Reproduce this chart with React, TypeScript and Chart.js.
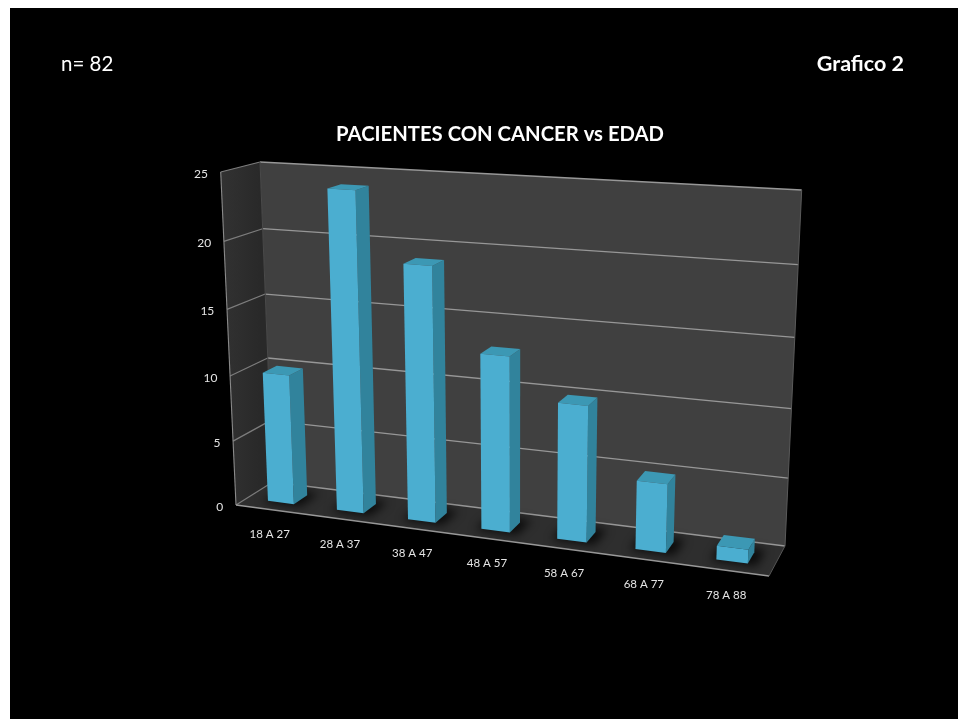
import React, { useEffect, useRef } from "react";
import { Chart, BarController, registerables } from "chart.js";

Chart.register(...registerables);

// Chart data
const ageGroups = ["18 A 27", "28 A 37", "38 A 47", "48 A 57", "58 A 67", "68 A 77", "78 A 88"];
const patients = [10, 24, 19, 13, 10, 5, 1];
const valueTicksStep = 5;
const valueMax = 25;
const chartTitle = "PACIENTES CON CANCER vs EDAD";
const sampleLabel = "n= 82";
const figureLabel = "Grafico 2";

type Pt = [number, number];

const PAGE_X = 10;
const PAGE_Y = 8;
const at = (x: number, y: number): Pt => [x - PAGE_X, y - PAGE_Y];

// Unit-square to quadrilateral projection, used for the front and back planes of the 3D box.
function planeMap(p0: Pt, p1: Pt, p2: Pt, p3: Pt) {
  const dx1 = p1[0] - p2[0], dx2 = p3[0] - p2[0], sx = p0[0] - p1[0] + p2[0] - p3[0];
  const dy1 = p1[1] - p2[1], dy2 = p3[1] - p2[1], sy = p0[1] - p1[1] + p2[1] - p3[1];
  const det = dx1 * dy2 - dx2 * dy1;
  const g = (sx * dy2 - dx2 * sy) / det;
  const h = (dx1 * sy - sx * dy1) / det;
  const a = p1[0] - p0[0] + g * p1[0], b = p3[0] - p0[0] + h * p3[0], c = p0[0];
  const d = p1[1] - p0[1] + g * p1[1], e = p3[1] - p0[1] + h * p3[1], f = p0[1];
  return (u: number, v: number): Pt => {
    const w = g * u + h * v + 1;
    return [(a * u + b * v + c) / w, (d * u + e * v + f) / w];
  };
}

const frontPlane = planeMap(at(236, 505), at(769, 576), at(783.7, 205), at(220.7, 172));
const backPlane = planeMap(at(272.7, 482), at(785, 546), at(801.7, 190), at(260, 162));

// u: across the categories, v: up the value axis, d: depth (0 front, 1 back wall)
function project(u: number, v: number, d: number): Pt {
  const f = frontPlane(u, v);
  const b = backPlane(u, v);
  return [f[0] + (b[0] - f[0]) * d, f[1] + (b[1] - f[1]) * d];
}

function poly(ctx: CanvasRenderingContext2D, pts: Pt[], fill: string | CanvasGradient) {
  ctx.beginPath();
  pts.forEach((p, i) => (i ? ctx.lineTo(p[0], p[1]) : ctx.moveTo(p[0], p[1])));
  ctx.closePath();
  ctx.fillStyle = fill;
  ctx.fill();
}

function segment(ctx: CanvasRenderingContext2D, a: Pt, b: Pt, color: string, width: number) {
  ctx.beginPath();
  ctx.moveTo(a[0], a[1]);
  ctx.lineTo(b[0], b[1]);
  ctx.strokeStyle = color;
  ctx.lineWidth = width;
  ctx.stroke();
}

const COLUMN_NEAR = 0.3;
const COLUMN_FAR = 0.68;

// Bar controller that draws every column as a box standing in the projected plot volume.
class Column3DController extends BarController {
  static id = "column3d";
  static defaults = BarController.defaults;
  static overrides = BarController.overrides;

  draw() {
    const chart = this.chart;
    const ctx = chart.ctx;
    const area = chart.chartArea;
    const bars = this.getMeta().data.map((el: any) => {
      const p = el.getProps(["x", "y", "base", "width"], true);
      return {
        u0: (p.x - p.width / 2 - area.left) / area.width,
        u1: (p.x + p.width / 2 - area.left) / area.width,
        top: (area.bottom - p.y) / area.height,
        bottom: (area.bottom - p.base) / area.height,
      };
    });

    // soft contact shadows on the floor
    ctx.save();
    ctx.filter = "blur(5px)";
    bars.forEach((b) => {
      const grow = 0.008;
      poly(
        ctx,
        [
          project(b.u0 - grow, 0, COLUMN_NEAR - 0.05),
          project(b.u1 + grow * 2, 0, COLUMN_NEAR - 0.05),
          project(b.u1 + grow * 2, 0, COLUMN_FAR + 0.12),
          project(b.u0 - grow, 0, COLUMN_FAR + 0.12),
        ],
        "rgba(0,0,0,0.75)"
      );
    });
    ctx.restore();

    bars.forEach((b) => {
      const { u0, u1, top, bottom } = b;
      const n = COLUMN_NEAR, f = COLUMN_FAR;
      poly(ctx, [project(u1, bottom, n), project(u1, bottom, f), project(u1, top, f), project(u1, top, n)], "#31839C");
      poly(ctx, [project(u0, top, n), project(u1, top, n), project(u1, top, f), project(u0, top, f)], "#3C98B4");
      poly(ctx, [project(u0, bottom, n), project(u1, bottom, n), project(u1, top, n), project(u0, top, n)], "#4BAED0");
    });
  }
}
Chart.register(Column3DController);

// Walls, floor, grid lines and axis labels follow the chart's scales through the projection.
const boxPlugin = {
  id: "plotBox",
  beforeDatasetsDraw(chart: any) {
    const ctx: CanvasRenderingContext2D = chart.ctx;
    const area = chart.chartArea;
    const xs = chart.scales.x;
    const ys = chart.scales.y;
    const vOf = (val: number) => (area.bottom - ys.getPixelForValue(val)) / area.height;
    const uOf = (i: number) => (xs.getPixelForValue(i) - area.left) / area.width;

    poly(ctx, [project(0, 0, 1), project(1, 0, 1), project(1, 1, 1), project(0, 1, 1)], "#404040");
    const sideA = project(0, 1, 0);
    const sideB = project(0, 1, 1);
    const side = ctx.createLinearGradient(sideA[0], 0, sideB[0], 0);
    side.addColorStop(0, "#323232");
    side.addColorStop(1, "#292929");
    poly(ctx, [project(0, 0, 0), project(0, 0, 1), project(0, 1, 1), project(0, 1, 0)], side);
    poly(ctx, [project(0, 0, 0), project(1, 0, 0), project(1, 0, 1), project(0, 0, 1)], "#2E2E2E");

    const gridColor = "#979797";
    ys.ticks.forEach((t: any) => {
      const v = vOf(t.value);
      segment(ctx, project(0, v, 1), project(1, v, 1), gridColor, 1.3);
      segment(ctx, project(0, v, 0), project(0, v, 1), "#7d7d7d", 1.2);
      const p = project(0, v, 0);
      ctx.fillStyle = "#E4E4E4";
      ctx.font = "12px Lato";
      ctx.textAlign = "right";
      ctx.textBaseline = "middle";
      ctx.fillText(String(t.value), p[0] - 12.7, p[1] + 2);
    });

    segment(ctx, project(0, 0, 0), project(0, 1, 0), "#8a8a8a", 1.1);
    segment(ctx, project(0, 0, 0), project(1, 0, 0), "#9a9a9a", 1.3);
    segment(ctx, project(1, 0, 0), project(1, 0, 1), "#555555", 1);
    segment(ctx, project(1, 0, 1), project(1, 1, 1), "#5a5a5a", 1);
    segment(ctx, project(0, 0, 1), project(0, 1, 1), "#4a4a4a", 1);

    xs.getLabels().forEach((label: string, i: number) => {
      const p = project(uOf(i), 0, 0);
      ctx.fillStyle = "#E4E4E4";
      ctx.font = "11.5px Lato";
      ctx.textAlign = "center";
      ctx.textBaseline = "middle";
      ctx.fillText(label, p[0] - 0.5, p[1] + 25);
    });
  },
  afterDraw(chart: any) {
    const ctx: CanvasRenderingContext2D = chart.ctx;
    ctx.save();
    ctx.fillStyle = "#FFFFFF";
    ctx.textBaseline = "middle";
    ctx.font = "20.5px Lato";
    ctx.textAlign = "left";
    const a = at(61, 64);
    ctx.fillText(sampleLabel, a[0], a[1]);
    ctx.font = "bold 21.5px Lato";
    ctx.textAlign = "right";
    const b = at(904, 64);
    ctx.fillText(figureLabel, b[0], b[1]);
    ctx.restore();
  },
};

export default function App() {
  const ref = useRef<HTMLCanvasElement>(null);
  useEffect(() => {
    const chart = new Chart(ref.current as HTMLCanvasElement, {
      type: "column3d" as any,
      data: {
        labels: ageGroups,
        datasets: [{ label: "Pacientes", data: patients, backgroundColor: "#4BAED0", categoryPercentage: 1, barPercentage: 0.38 }],
      },
      options: {
        animation: false,
        responsive: false,
        layout: { padding: { left: 100, right: 68, top: 114, bottom: 120 } },
        scales: {
          x: { type: "category", offset: true, display: false },
          y: { type: "linear", min: 0, max: valueMax, display: false, ticks: { stepSize: valueTicksStep } },
        },
        plugins: {
          legend: { display: false },
          tooltip: { enabled: false },
          title: {
            display: true,
            text: chartTitle,
            color: "#FFFFFF",
            fullSize: false,
            font: { family: "Lato", size: 20.25, weight: "bold" },
            padding: { top: 0, bottom: 0 },
          },
        },
      } as any,
      plugins: [boxPlugin],
    });
    return () => chart.destroy();
  }, []);

  return (
    <div style={{ position: "absolute", left: PAGE_X, top: PAGE_Y, width: 948, height: 711, background: "#000" }}>
      <canvas ref={ref} width={948} height={711} style={{ display: "block" }} />
    </div>
  );
}
